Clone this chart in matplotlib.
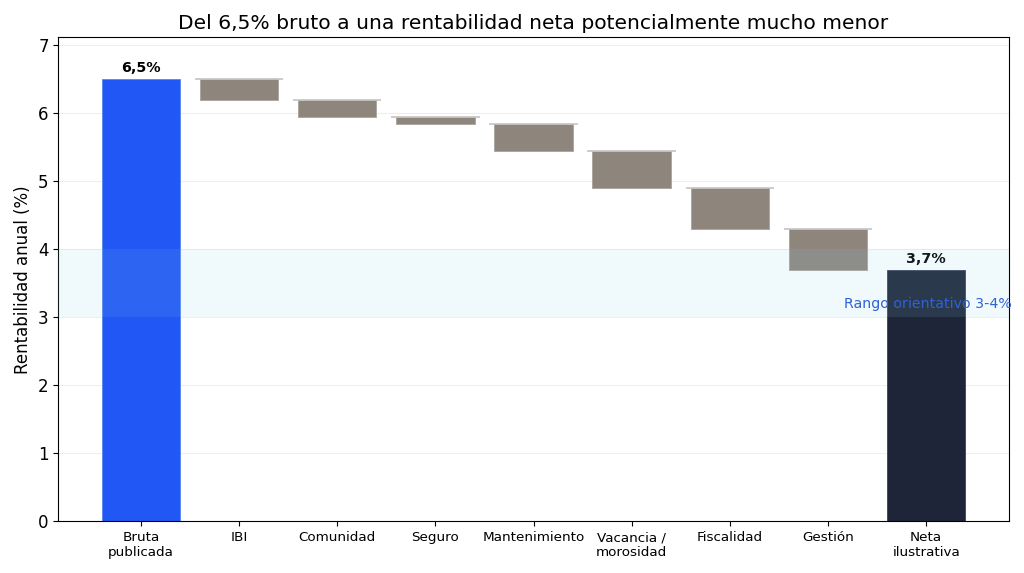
import numpy as np
import matplotlib.pyplot as plt

# Categories and values (rentabilidad anual, %)
categories = ['Bruta\npublicada', 'IBI', 'Comunidad', 'Seguro', 'Mantenimiento',
              'Vacancia /\nmorosidad', 'Fiscalidad', 'Gestión', 'Neta\nilustrativa']
gross = 6.5
deductions = [0.3, 0.25, 0.1, 0.4, 0.55, 0.6, 0.6]
net = 3.7
range_low, range_high = 3.0, 4.0

fig, ax = plt.subplots(figsize=(10.24, 5.73), dpi=100)

x = np.arange(len(categories))
width = 0.8

# first bar: gross
ax.bar(x[0], gross, width=width, color='#2157f4', edgecolor='#5a84f2',
       linewidth=0.6, zorder=2)
ax.text(x[0], gross + 0.06, '6,5%', ha='center', va='bottom',
        fontsize=10.3, fontweight='bold')

# floating deduction bars with connector lines
level = gross
for i, d in enumerate(deductions, start=1):
    ax.bar(x[i], d, bottom=level - d, width=width, color='#8e867c',
           edgecolor='#a8a29a', linewidth=0.6, zorder=2)
    ax.hlines(level, x[i] - 0.45, x[i] + 0.45, color='#c4c4c4',
              linewidth=1.2, zorder=3)
    level -= d

# last bar: net
ax.bar(x[-1], net, width=width, color='#1f2538', edgecolor='#3a4256',
       linewidth=0.6, zorder=2)
ax.text(x[-1], net + 0.06, '3,7%', ha='center', va='bottom',
        fontsize=10.3, fontweight='bold')

# orientative range band
ax.axhspan(range_low, range_high, color='#87ceeb', alpha=0.12, zorder=4,
           linewidth=0)
ax.text(x[-1] + 0.87, range_low + 0.2, 'Rango orientativo 3-4%', ha='right',
        va='center', fontsize=10.2, color='#2f62d6', zorder=5)

ax.set_xticks(x)
ax.set_xticklabels(categories, fontsize=9.7)
ax.set_ylim(0, 7.12)
ax.set_yticks(range(0, 8))
ax.tick_params(axis='y', labelsize=12)
ax.set_ylabel('Rentabilidad anual (%)', fontsize=12)
ax.set_title('Del 6,5% bruto a una rentabilidad neta potencialmente mucho menor',
             fontsize=14.6)
ax.grid(axis='y', color='#efefef', linewidth=0.8, zorder=0)
ax.set_axisbelow(True)

plt.subplots_adjust(left=0.057, right=0.985, top=0.935, bottom=0.09)
plt.savefig('out.png')
